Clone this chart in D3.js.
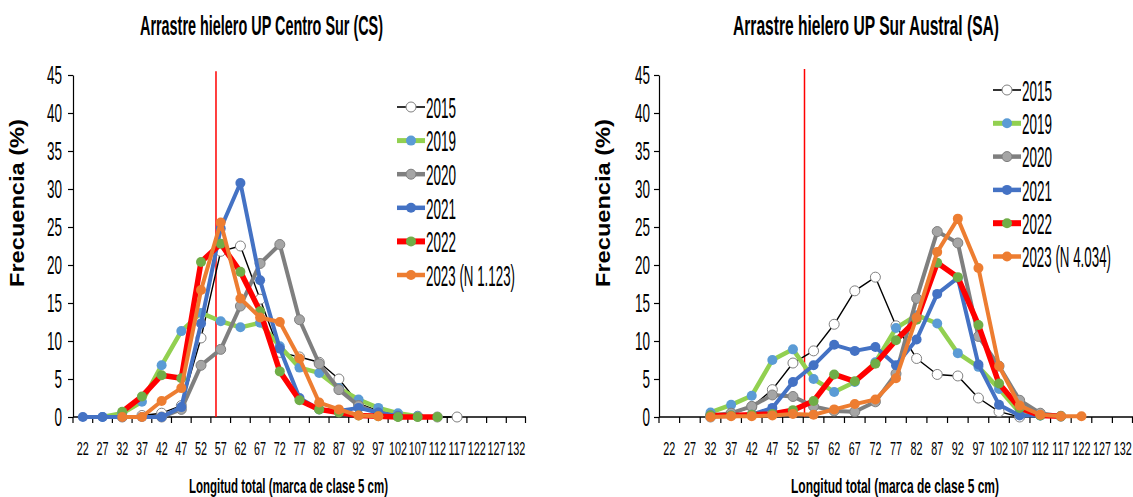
<!DOCTYPE html>
<html><head><meta charset="utf-8">
<script src="https://cdn.jsdelivr.net/npm/d3@7"></script>
<style>
body{margin:0;background:#fff;}
svg{display:block;}
</style></head><body>
<svg id="c" width="1133" height="497"></svg>
<script>
// ---------------- DATA ----------------
const categories = [22,27,32,37,42,47,52,57,62,67,72,77,82,87,92,97,102,107,112,117,122,127,132];
const tickLabels = categories.map(String);
const yTicks = [0,5,10,15,20,25,30,35,40,45];
const seriesNames = ["2015","2019","2020","2021","2022","2023"];

// Centro Sur (CS)
const cs2015 = [null,null,0,0.2,0.5,1.5,10.4,21.8,22.5,15.5,8.5,7.9,7.2,5.0,1.8,0.8,0.3,0.1,0,0,null,null,null];
const cs2019 = [null,0,0.5,2.0,6.8,11.3,13.7,12.6,11.8,12.4,9.3,6.5,5.8,3.8,2.3,1.2,0.5,0.1,null,null,null,null,null];
const cs2020 = [null,null,null,null,0,1.0,6.8,8.9,14.6,20.2,22.7,12.8,7.0,3.6,1.5,0.5,0.1,null,null,null,null,null,null];
const cs2021 = [0,0,0,0,0,1.3,12.3,24.8,30.8,18.0,9.0,2.5,1.0,0.8,1.2,0.6,0.1,null,null,null,null,null,null];
const cs2022 = [null,null,0.7,2.7,5.5,5.1,20.4,22.8,19.1,13.9,6.0,2.2,1.0,0.6,0.2,0.1,0,0,0,null,null,null,null];
const cs2023 = [null,null,0,0,2.1,3.8,16.7,25.6,15.6,13.1,12.5,7.7,1.9,1.0,0.2,0.1,null,null,null,null,null,null,null];
const legendCS = ["2015","2019","2020","2021","2022","2023 (N 1.123)"];
const refLineCS = 55.8;   // vertical red reference (cm)

// Sur Austral (SA)
const sa2015 = [null,null,0,0.4,1.3,3.6,7.1,8.7,12.2,16.6,18.4,12.0,7.7,5.6,5.4,2.5,0.7,0,null,null,null,null,null];
const sa2019 = [null,null,0.6,1.6,2.8,7.5,8.9,5.0,3.3,4.6,7.2,11.7,13.4,12.3,8.4,6.6,3.7,0.6,0.2,null,null,null,null];
const sa2020 = [null,null,0.2,0.5,1.4,2.9,2.7,1.4,0.8,0.7,2.0,5.7,15.6,24.4,22.9,10.6,6.7,2.2,0.5,0.1,null,null,null];
const sa2021 = [null,null,0.1,0.2,0.3,1.2,4.6,6.8,9.5,8.7,9.2,6.8,10.2,16.2,18.3,6.9,1.6,0.2,0.2,null,null,null,null];
const sa2022 = [null,null,0.2,0.2,0.3,0.4,0.9,2.1,5.6,4.7,7.0,10.1,12.8,20.3,18.4,12.1,4.4,1.2,0.2,0.1,null,null,null];
const sa2023 = [null,null,0,0.1,0.1,0.2,0.4,0.3,1.0,1.7,2.3,5.1,13.1,21.7,26.1,19.6,6.7,1.5,0.3,0.1,0.1,null,null];
const legendSA = ["2015","2019","2020","2021","2022","2023 (N 4.034)"];
const refLineSA = 54.8;

const titleCS = "Arrastre hielero UP Centro Sur (CS)";
const titleSA = "Arrastre hielero UP Sur Austral (SA)";
const xTitle = "Longitud total (marca de clase 5 cm)";
const yTitle = "Frecuencia (%)";

// ---------------- STYLE ----------------
const NARROW = "'Liberation Sans Narrow','Arial Narrow','Liberation Sans',Arial,sans-serif";
const SANS = "'Liberation Sans',Arial,sans-serif";
const styles = [
  {line:"#000000", w:1.4, fill:"#ffffff", stroke:"#808080", sw:1},
  {line:"#92D050", w:4.5, fill:"#5B9BD5", stroke:"#5B9BD5", sw:0},
  {line:"#7F7F7F", w:4,   fill:"#A5A5A5", stroke:"#7F7F7F", sw:1},
  {line:"#4472C4", w:4,   fill:"#4472C4", stroke:"#4472C4", sw:0},
  {line:"#FF0000", w:5.5, fill:"#70AD47", stroke:"#70AD47", sw:0},
  {line:"#ED7D31", w:4,   fill:"#ED7D31", stroke:"#ED7D31", sw:0}
];

const svg = d3.select("#c");

function fontDigitWidth(family, size, weight){
  const t = svg.append("text").attr("font-family",family).attr("font-size",size)
    .attr("font-weight",weight||"normal").text("0000000000");
  const w = t.node().getComputedTextLength()/10;
  t.remove();
  return w;
}
function squeeze(sel, family, size, weight, digitW){
  const fw = fontDigitWidth(family, size, weight);
  sel.each(function(){
    const w = this.getComputedTextLength();
    d3.select(this).attr("textLength", w*digitW/fw).attr("lengthAdjust","spacingAndGlyphs");
  });
}

function drawChart(cfg){
  const g = svg.append("g");
  const x = d3.scaleBand().domain(categories).range([cfg.x0, cfg.x1]).padding(0);
  const y = d3.scaleLinear().domain([0,45]).range([417,75]);
  const bw = x.bandwidth();
  const xc = c => x(c) + bw/2;

  // y axis
  const ya = g.append("g").attr("transform",`translate(${cfg.x0},0)`)
    .call(d3.axisLeft(y).tickValues(yTicks).tickSize(5).tickSizeOuter(0).tickPadding(cfg.yPad));
  ya.select(".domain").attr("stroke","#000").attr("stroke-width",1.2);
  ya.selectAll(".tick line").attr("stroke","#000").attr("stroke-width",1.2);
  const yt = ya.selectAll(".tick text").attr("font-family",NARROW).attr("font-size",25).attr("fill","#000");
  squeeze(yt, NARROW, 25, "normal", 7.5);

  // x axis
  g.append("line").attr("x1",cfg.x0).attr("x2",cfg.x1).attr("y1",y(0)).attr("y2",y(0))
    .attr("stroke","#000").attr("stroke-width",1.5);
  const bounds = categories.map(c => x(c)).concat([cfg.x1-0.5]);
  g.selectAll(".xt").data(bounds).join("line")
    .attr("x1",d=>d).attr("x2",d=>d).attr("y1",y(0)).attr("y2",y(0)+6)
    .attr("stroke","#000").attr("stroke-width",1.2);
  const xl = g.selectAll(".xl").data(categories).join("text")
    .attr("x",d=>xc(d)).attr("y",455).attr("text-anchor","middle")
    .attr("font-family",NARROW).attr("font-size",18).attr("fill","#000")
    .text((d,i)=>tickLabels[i]);
  squeeze(xl, NARROW, 18, "normal", cfg.xDigit);

  // reference red line
  const xr = xc(22) + (cfg.ref-22)/5*bw;
  g.append("line").attr("x1",xr).attr("x2",xr).attr("y1",y(cfg.refTop)).attr("y2",y(0))
    .attr("stroke","#FF0000").attr("stroke-width",1.5);

  // series
  const line = d3.line().defined(d=>d.v!==null).x(d=>xc(d.c)).y(d=>y(d.v));
  cfg.series.forEach((arr,i)=>{
    const st = styles[i];
    const pts = arr.map((v,j)=>({c:categories[j], v:v}));
    g.append("path").datum(pts).attr("d",line).attr("fill","none")
      .attr("stroke",st.line).attr("stroke-width",st.w).attr("stroke-linejoin","round");
    g.append("g").selectAll("circle").data(pts.filter(d=>d.v!==null)).join("circle")
      .attr("cx",d=>xc(d.c)).attr("cy",d=>y(d.v)).attr("r",5)
      .attr("fill",st.fill).attr("stroke",st.stroke).attr("stroke-width",st.sw);
  });

  // legend
  cfg.legend.forEach((lab,i)=>{
    const st = styles[i];
    const ry = cfg.legY0 + i*cfg.legDy;
    g.append("line").attr("x1",cfg.legX0).attr("x2",cfg.legX0+28).attr("y1",ry).attr("y2",ry)
      .attr("stroke",st.line).attr("stroke-width",i===0?1.6:st.w+0.5);
    g.append("circle").attr("cx",cfg.legX0+14).attr("cy",ry).attr("r",5)
      .attr("fill",st.fill).attr("stroke",st.stroke).attr("stroke-width",st.sw);
    g.append("text").attr("x",cfg.legX0+29).attr("y",ry+10.8)
      .attr("font-family",NARROW).attr("font-size",30).attr("fill","#000")
      .attr("textLength", lab.length > 4 ? 89 : 30).attr("lengthAdjust","spacingAndGlyphs")
      .text(lab);
  });

  // titles
  g.append("text").attr("x",cfg.titleX).attr("y",35).attr("text-anchor","middle")
    .attr("font-family",NARROW).attr("font-weight","bold").attr("font-size",28).attr("fill","#000")
    .attr("textLength",cfg.titleW).attr("lengthAdjust","spacingAndGlyphs").text(cfg.title);
  g.append("text").attr("x",cfg.xTitleX).attr("y",493).attr("text-anchor","middle")
    .attr("font-family",NARROW).attr("font-weight","bold").attr("font-size",21).attr("fill","#000")
    .attr("textLength",cfg.xTitleW).attr("lengthAdjust","spacingAndGlyphs").text(xTitle);
  g.append("text").attr("transform",`translate(${cfg.yTitleX},203) rotate(-90)`)
    .attr("text-anchor","middle")
    .attr("font-family",SANS).attr("font-weight","bold").attr("font-size",21).attr("fill","#000")
    .attr("textLength",168).attr("lengthAdjust","spacingAndGlyphs").text(yTitle);
}

drawChart({
  x0:73, x1:526, yPad:6, xDigit:6.0, ref:refLineCS, refTop:45.5,
  series:[cs2015,cs2019,cs2020,cs2021,cs2022,cs2023], legend:legendCS,
  legX0:397, legY0:107, legDy:33.6,
  title:titleCS, titleX:261.5, titleW:243, xTitleX:288.5, xTitleW:199, yTitleX:24
});
drawChart({
  x0:659, x1:1133, yPad:4, xDigit:6.0, ref:refLineSA, refTop:45.8,
  series:[sa2015,sa2019,sa2020,sa2021,sa2022,sa2023], legend:legendSA,
  legX0:993, legY0:90, legDy:33.3,
  title:titleSA, titleX:866, titleW:266, xTitleX:895, xTitleW:208, yTitleX:610
});
</script>
</body></html>
